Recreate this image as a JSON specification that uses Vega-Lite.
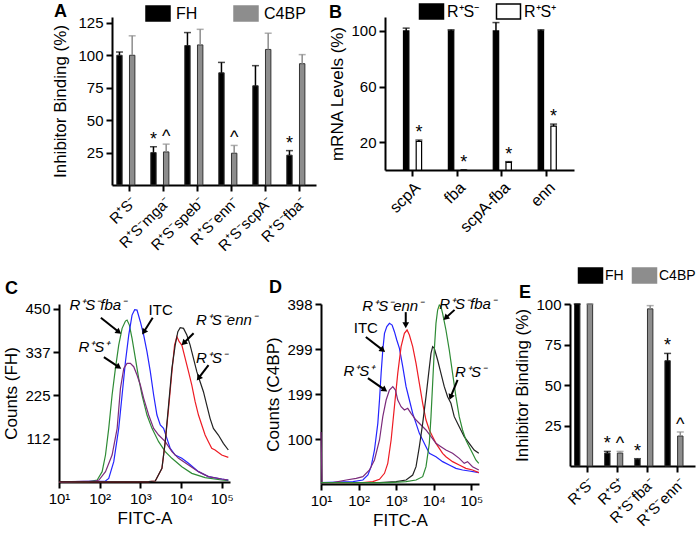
{
"$schema":"https://vega.github.io/schema/vega-lite/v6.json",
"padding":{"left":2,"top":3,"right":0,"bottom":0},
"bounds":"flush",
"spacing":287,
"resolve":{"scale":{"color":"independent"},"legend":{"color":"independent"}},
"config":{"font":"Liberation Sans","view":{"stroke":null},
"axis":{"domainColor":"black","domainWidth":2,"tickColor":"black","tickWidth":2,"tickSize":6,"labelColor":"black","labelFontSize":15,"titleFontSize":17,"titleFontWeight":"normal","titleColor":"black","grid":false,"labelPadding":3,"labelFlush":false},
"title":{"anchor":"start","frame":"group","fontSize":18,"fontWeight":"bold","offset":0,"color":"black"},
"legend":{"orient":"none","direction":"horizontal","title":null,"symbolType":"M-1.6,-1H1.6V1H-1.6Z","symbolSize":225,"labelFontSize":16,"labelColor":"black","symbolOpacity":1,"padding":0}},
"datasets":{
"curvesC":[
{"strain":"R⁺S⁻fba⁻","fitc":10,"count":0.5},{"strain":"R⁺S⁻fba⁻","fitc":54,"count":0.9},{"strain":"R⁺S⁻fba⁻","fitc":87,"count":5.2},{"strain":"R⁺S⁻fba⁻","fitc":115,"count":26.9},{"strain":"R⁺S⁻fba⁻","fitc":139,"count":70.2},{"strain":"R⁺S⁻fba⁻","fitc":167,"count":139.5},{"strain":"R⁺S⁻fba⁻","fitc":202,"count":226.2},{"strain":"R⁺S⁻fba⁻","fitc":244,"count":295.6},{"strain":"R⁺S⁻fba⁻","fitc":294,"count":356.2},{"strain":"R⁺S⁻fba⁻","fitc":356,"count":399.6},{"strain":"R⁺S⁻fba⁻","fitc":430,"count":418.6},{"strain":"R⁺S⁻fba⁻","fitc":471,"count":421.2},{"strain":"R⁺S⁻fba⁻","fitc":538,"count":408.2},{"strain":"R⁺S⁻fba⁻","fitc":625,"count":373.6},{"strain":"R⁺S⁻fba⁻","fitc":755,"count":321.5},{"strain":"R⁺S⁻fba⁻","fitc":910,"count":269.6},{"strain":"R⁺S⁻fba⁻","fitc":1099,"count":226.2},{"strain":"R⁺S⁻fba⁻","fitc":1455,"count":174.2},{"strain":"R⁺S⁻fba⁻","fitc":1932,"count":139.5},{"strain":"R⁺S⁻fba⁻","fitc":2812,"count":104.9},{"strain":"R⁺S⁻fba⁻","fitc":4093,"count":78.9},{"strain":"R⁺S⁻fba⁻","fitc":5970,"count":61.6},{"strain":"R⁺S⁻fba⁻","fitc":10470,"count":39.9},{"strain":"R⁺S⁻fba⁻","fitc":18410,"count":22.5},{"strain":"R⁺S⁻fba⁻","fitc":39080,"count":11.3},{"strain":"R⁺S⁻fba⁻","fitc":100000,"count":5.2},{"strain":"R⁺S⁻fba⁻","fitc":145500,"count":3.5},
{"strain":"ITC","fitc":10,"count":0.5},{"strain":"ITC","fitc":139,"count":2.6},{"strain":"ITC","fitc":167,"count":9.5},{"strain":"ITC","fitc":222,"count":52.9},{"strain":"ITC","fitc":294,"count":139.5},{"strain":"ITC","fitc":356,"count":226.2},{"strain":"ITC","fitc":430,"count":312.9},{"strain":"ITC","fitc":518,"count":382.2},{"strain":"ITC","fitc":625,"count":434.2},{"strain":"ITC","fitc":726,"count":448},{"strain":"ITC","fitc":828,"count":447.2},{"strain":"ITC","fitc":1000,"count":416.9},{"strain":"ITC","fitc":1208,"count":382.2},{"strain":"ITC","fitc":1455,"count":338.9},{"strain":"ITC","fitc":1758,"count":286.9},{"strain":"ITC","fitc":2123,"count":226.2},{"strain":"ITC","fitc":2559,"count":174.2},{"strain":"ITC","fitc":3090,"count":148.2},{"strain":"ITC","fitc":3724,"count":139.5},{"strain":"ITC","fitc":4498,"count":113.5},{"strain":"ITC","fitc":5433,"count":87.5},{"strain":"ITC","fitc":7194,"count":70.2},{"strain":"ITC","fitc":10470,"count":61.6},{"strain":"ITC","fitc":15280,"count":48.6},{"strain":"ITC","fitc":26850,"count":26.9},{"strain":"ITC","fitc":47100,"count":13.9},{"strain":"ITC","fitc":100000,"count":7.8},{"strain":"ITC","fitc":145500,"count":5.2},
{"strain":"R⁺S⁺","fitc":10,"count":0.5},{"strain":"R⁺S⁺","fitc":79,"count":2.6},{"strain":"R⁺S⁺","fitc":96,"count":5.2},{"strain":"R⁺S⁺","fitc":139,"count":26.9},{"strain":"R⁺S⁺","fitc":202,"count":70.2},{"strain":"R⁺S⁺","fitc":269,"count":139.5},{"strain":"R⁺S⁺","fitc":324,"count":243.6},{"strain":"R⁺S⁺","fitc":391,"count":295.6},{"strain":"R⁺S⁺","fitc":471,"count":308.5},{"strain":"R⁺S⁺","fitc":569,"count":308.5},{"strain":"R⁺S⁺","fitc":687,"count":299.9},{"strain":"R⁺S⁺","fitc":828,"count":278.2},{"strain":"R⁺S⁺","fitc":1000,"count":252.2},{"strain":"R⁺S⁺","fitc":1208,"count":217.6},{"strain":"R⁺S⁺","fitc":1600,"count":174.2},{"strain":"R⁺S⁺","fitc":2123,"count":139.5},{"strain":"R⁺S⁺","fitc":2812,"count":122.2},{"strain":"R⁺S⁺","fitc":4093,"count":104.9},{"strain":"R⁺S⁺","fitc":5970,"count":78.9},{"strain":"R⁺S⁺","fitc":8690,"count":61.6},{"strain":"R⁺S⁺","fitc":15280,"count":44.2},{"strain":"R⁺S⁺","fitc":26850,"count":26.9},{"strain":"R⁺S⁺","fitc":47100,"count":13.9},{"strain":"R⁺S⁺","fitc":100000,"count":7.8},{"strain":"R⁺S⁺","fitc":145500,"count":5.2},
{"strain":"R⁺S⁻enn⁻","fitc":10,"count":0.5},{"strain":"R⁺S⁻enn⁻","fitc":1600,"count":0.9},{"strain":"R⁺S⁻enn⁻","fitc":2328,"count":2.6},{"strain":"R⁺S⁻enn⁻","fitc":3396,"count":35.5},{"strain":"R⁺S⁻enn⁻","fitc":4093,"count":104.9},{"strain":"R⁺S⁻enn⁻","fitc":4943,"count":191.6},{"strain":"R⁺S⁻enn⁻","fitc":5970,"count":286.9},{"strain":"R⁺S⁻enn⁻","fitc":6934,"count":356.2},{"strain":"R⁺S⁻enn⁻","fitc":7907,"count":377.9},{"strain":"R⁺S⁻enn⁻","fitc":9016,"count":364.9},{"strain":"R⁺S⁻enn⁻","fitc":10470,"count":356.2},{"strain":"R⁺S⁻enn⁻","fitc":12650,"count":321.5},{"strain":"R⁺S⁻enn⁻","fitc":15280,"count":286.9},{"strain":"R⁺S⁻enn⁻","fitc":18410,"count":252.2},{"strain":"R⁺S⁻enn⁻","fitc":22230,"count":208.9},{"strain":"R⁺S⁻enn⁻","fitc":26850,"count":174.2},{"strain":"R⁺S⁻enn⁻","fitc":32360,"count":148.2},{"strain":"R⁺S⁻enn⁻","fitc":39080,"count":122.2},{"strain":"R⁺S⁻enn⁻","fitc":47100,"count":104.9},{"strain":"R⁺S⁻enn⁻","fitc":56890,"count":87.5},{"strain":"R⁺S⁻enn⁻","fitc":68710,"count":83.2},{"strain":"R⁺S⁻enn⁻","fitc":100000,"count":70.2},{"strain":"R⁺S⁻enn⁻","fitc":145500,"count":64.2},
{"strain":"R⁺S⁻","fitc":10,"count":0.5},{"strain":"R⁺S⁻","fitc":1600,"count":0.9},{"strain":"R⁺S⁻","fitc":2328,"count":2.6},{"strain":"R⁺S⁻","fitc":3396,"count":35.5},{"strain":"R⁺S⁻","fitc":4093,"count":104.9},{"strain":"R⁺S⁻","fitc":4943,"count":200.2},{"strain":"R⁺S⁻","fitc":5970,"count":295.6},{"strain":"R⁺S⁻","fitc":7194,"count":356.2},{"strain":"R⁺S⁻","fitc":8356,"count":390.9},{"strain":"R⁺S⁻","fitc":9550,"count":401.3},{"strain":"R⁺S⁻","fitc":11510,"count":399.6},{"strain":"R⁺S⁻","fitc":13900,"count":382.2},{"strain":"R⁺S⁻","fitc":16750,"count":356.2},{"strain":"R⁺S⁻","fitc":20230,"count":321.5},{"strain":"R⁺S⁻","fitc":24430,"count":286.9},{"strain":"R⁺S⁻","fitc":29440,"count":260.9},{"strain":"R⁺S⁻","fitc":35560,"count":234.9},{"strain":"R⁺S⁻","fitc":42950,"count":200.2},{"strain":"R⁺S⁻","fitc":51760,"count":165.6},{"strain":"R⁺S⁻","fitc":62520,"count":139.5},{"strain":"R⁺S⁻","fitc":82790,"count":122.2},{"strain":"R⁺S⁻","fitc":109900,"count":100.5},{"strain":"R⁺S⁻","fitc":145500,"count":83.2}
],
"curvesD":[
{"strain":"ITC","fitc":10,"count":2.9},{"strain":"ITC","fitc":71,"count":5.2},{"strain":"ITC","fitc":130,"count":8.8},{"strain":"ITC","fitc":177,"count":19.9},{"strain":"ITC","fitc":216,"count":38.3},{"strain":"ITC","fitc":265,"count":75.2},{"strain":"ITC","fitc":325,"count":134.1},{"strain":"ITC","fitc":360,"count":185.7},{"strain":"ITC","fitc":398,"count":244.7},{"strain":"ITC","fitc":441,"count":296.3},{"strain":"ITC","fitc":489,"count":333.1},{"strain":"ITC","fitc":564,"count":347.9},{"strain":"ITC","fitc":662,"count":355.2},{"strain":"ITC","fitc":780,"count":351.5},{"strain":"ITC","fitc":899,"count":336.8},{"strain":"ITC","fitc":1038,"count":318.4},{"strain":"ITC","fitc":1222,"count":300},{"strain":"ITC","fitc":1496,"count":259.4},{"strain":"ITC","fitc":1834,"count":215.2},{"strain":"ITC","fitc":2249,"count":185.7},{"strain":"ITC","fitc":2756,"count":156.2},{"strain":"ITC","fitc":3378,"count":134.1},{"strain":"ITC","fitc":4141,"count":112},{"strain":"ITC","fitc":5077,"count":97.3},{"strain":"ITC","fitc":6224,"count":82.5},{"strain":"ITC","fitc":7628,"count":67.8},{"strain":"ITC","fitc":11460,"count":60.4},{"strain":"ITC","fitc":17220,"count":49.4},{"strain":"ITC","fitc":25880,"count":42},{"strain":"ITC","fitc":38880,"count":34.6},{"strain":"ITC","fitc":58430,"count":31},{"strain":"ITC","fitc":87790,"count":28.7},{"strain":"ITC","fitc":158000,"count":25.1},
{"strain":"R⁺S⁻enn⁻","fitc":10,"count":2.9},{"strain":"R⁺S⁻enn⁻","fitc":130,"count":2.9},{"strain":"R⁺S⁻enn⁻","fitc":239,"count":5.2},{"strain":"R⁺S⁻enn⁻","fitc":360,"count":10.3},{"strain":"R⁺S⁻enn⁻","fitc":489,"count":23.6},{"strain":"R⁺S⁻enn⁻","fitc":598,"count":45.7},{"strain":"R⁺S⁻enn⁻","fitc":734,"count":97.3},{"strain":"R⁺S⁻enn⁻","fitc":899,"count":171},{"strain":"R⁺S⁻enn⁻","fitc":1102,"count":244.7},{"strain":"R⁺S⁻enn⁻","fitc":1352,"count":303.6},{"strain":"R⁺S⁻enn⁻","fitc":1656,"count":333.1},{"strain":"R⁺S⁻enn⁻","fitc":1950,"count":340.5},{"strain":"R⁺S⁻enn⁻","fitc":2249,"count":329.4},{"strain":"R⁺S⁻enn⁻","fitc":2756,"count":303.6},{"strain":"R⁺S⁻enn⁻","fitc":3378,"count":266.8},{"strain":"R⁺S⁻enn⁻","fitc":4141,"count":222.6},{"strain":"R⁺S⁻enn⁻","fitc":5077,"count":178.4},{"strain":"R⁺S⁻enn⁻","fitc":6224,"count":141.5},{"strain":"R⁺S⁻enn⁻","fitc":7628,"count":119.4},{"strain":"R⁺S⁻enn⁻","fitc":9352,"count":104.7},{"strain":"R⁺S⁻enn⁻","fitc":11460,"count":89.9},{"strain":"R⁺S⁻enn⁻","fitc":14050,"count":78.9},{"strain":"R⁺S⁻enn⁻","fitc":17220,"count":67.8},{"strain":"R⁺S⁻enn⁻","fitc":21110,"count":60.4},{"strain":"R⁺S⁻enn⁻","fitc":31720,"count":49.4},{"strain":"R⁺S⁻enn⁻","fitc":47660,"count":42},{"strain":"R⁺S⁻enn⁻","fitc":71620,"count":34.6},{"strain":"R⁺S⁻enn⁻","fitc":107600,"count":31},{"strain":"R⁺S⁻enn⁻","fitc":158000,"count":25.1},
{"strain":"R⁺S⁺","fitc":10,"count":115},{"strain":"R⁺S⁺","fitc":10.6,"count":2.9},{"strain":"R⁺S⁺","fitc":20.8,"count":2.9},{"strain":"R⁺S⁺","fitc":47,"count":8.8},{"strain":"R⁺S⁺","fitc":86.5,"count":12.5},{"strain":"R⁺S⁺","fitc":130,"count":16.2},{"strain":"R⁺S⁺","fitc":195,"count":31},{"strain":"R⁺S⁺","fitc":265,"count":53.1},{"strain":"R⁺S⁺","fitc":360,"count":97.3},{"strain":"R⁺S⁺","fitc":441,"count":148.9},{"strain":"R⁺S⁺","fitc":541,"count":185.7},{"strain":"R⁺S⁺","fitc":662,"count":207.8},{"strain":"R⁺S⁺","fitc":813,"count":215.2},{"strain":"R⁺S⁺","fitc":957,"count":207.8},{"strain":"R⁺S⁺","fitc":1102,"count":185.7},{"strain":"R⁺S⁺","fitc":1352,"count":171},{"strain":"R⁺S⁺","fitc":1656,"count":163.6},{"strain":"R⁺S⁺","fitc":2032,"count":167.3},{"strain":"R⁺S⁺","fitc":2490,"count":156.2},{"strain":"R⁺S⁺","fitc":3378,"count":141.5},{"strain":"R⁺S⁺","fitc":4585,"count":130.4},{"strain":"R⁺S⁺","fitc":6224,"count":119.4},{"strain":"R⁺S⁺","fitc":8447,"count":104.7},{"strain":"R⁺S⁺","fitc":11460,"count":89.9},{"strain":"R⁺S⁺","fitc":15560,"count":82.5},{"strain":"R⁺S⁺","fitc":21110,"count":75.2},{"strain":"R⁺S⁺","fitc":31720,"count":67.8},{"strain":"R⁺S⁺","fitc":47660,"count":56.7},{"strain":"R⁺S⁺","fitc":64690,"count":45.7},{"strain":"R⁺S⁺","fitc":79290,"count":49.4},{"strain":"R⁺S⁺","fitc":107600,"count":38.3},{"strain":"R⁺S⁺","fitc":158000,"count":31},
{"strain":"R⁺S⁻","fitc":10,"count":2.9},{"strain":"R⁺S⁻","fitc":360,"count":2.9},{"strain":"R⁺S⁻","fitc":996,"count":5.2},{"strain":"R⁺S⁻","fitc":1834,"count":8.8},{"strain":"R⁺S⁻","fitc":2756,"count":19.9},{"strain":"R⁺S⁻","fitc":3378,"count":38.3},{"strain":"R⁺S⁻","fitc":4141,"count":82.5},{"strain":"R⁺S⁻","fitc":5077,"count":134.1},{"strain":"R⁺S⁻","fitc":6224,"count":193.1},{"strain":"R⁺S⁻","fitc":7323,"count":244.7},{"strain":"R⁺S⁻","fitc":8447,"count":288.9},{"strain":"R⁺S⁻","fitc":9352,"count":303.6},{"strain":"R⁺S⁻","fitc":10350,"count":300},{"strain":"R⁺S⁻","fitc":12690,"count":274.2},{"strain":"R⁺S⁻","fitc":15560,"count":244.7},{"strain":"R⁺S⁻","fitc":19070,"count":215.2},{"strain":"R⁺S⁻","fitc":23370,"count":193.1},{"strain":"R⁺S⁻","fitc":28650,"count":178.4},{"strain":"R⁺S⁻","fitc":35120,"count":148.9},{"strain":"R⁺S⁻","fitc":47660,"count":126.8},{"strain":"R⁺S⁻","fitc":64690,"count":104.7},{"strain":"R⁺S⁻","fitc":87790,"count":89.9},{"strain":"R⁺S⁻","fitc":119100,"count":75.2},{"strain":"R⁺S⁻","fitc":158000,"count":67.8},
{"strain":"R⁺S⁻fba⁻","fitc":10,"count":2.9},{"strain":"R⁺S⁻fba⁻","fitc":662,"count":2.9},{"strain":"R⁺S⁻fba⁻","fitc":1834,"count":5.2},{"strain":"R⁺S⁻fba⁻","fitc":3378,"count":8.8},{"strain":"R⁺S⁻fba⁻","fitc":5077,"count":16.2},{"strain":"R⁺S⁻fba⁻","fitc":6224,"count":38.3},{"strain":"R⁺S⁻fba⁻","fitc":7628,"count":89.9},{"strain":"R⁺S⁻fba⁻","fitc":8447,"count":148.9},{"strain":"R⁺S⁻fba⁻","fitc":9352,"count":222.6},{"strain":"R⁺S⁻fba⁻","fitc":10350,"count":296.3},{"strain":"R⁺S⁻fba⁻","fitc":11460,"count":355.2},{"strain":"R⁺S⁻fba⁻","fitc":12690,"count":384.7},{"strain":"R⁺S⁻fba⁻","fitc":14050,"count":395.8},{"strain":"R⁺S⁻fba⁻","fitc":15560,"count":392.1},{"strain":"R⁺S⁻fba⁻","fitc":17220,"count":377.3},{"strain":"R⁺S⁻fba⁻","fitc":21110,"count":340.5},{"strain":"R⁺S⁻fba⁻","fitc":25880,"count":296.3},{"strain":"R⁺S⁻fba⁻","fitc":31720,"count":244.7},{"strain":"R⁺S⁻fba⁻","fitc":38880,"count":193.1},{"strain":"R⁺S⁻fba⁻","fitc":47660,"count":148.9},{"strain":"R⁺S⁻fba⁻","fitc":58430,"count":119.4},{"strain":"R⁺S⁻fba⁻","fitc":71620,"count":97.3},{"strain":"R⁺S⁻fba⁻","fitc":87790,"count":82.5},{"strain":"R⁺S⁻fba⁻","fitc":107600,"count":67.8},{"strain":"R⁺S⁻fba⁻","fitc":131900,"count":53.1},{"strain":"R⁺S⁻fba⁻","fitc":158000,"count":45.7}
],
"labelsC":[{"label":"R⁺S⁻fba⁻","fitc":90,"count":460},{"label":"ITC","fitc":3160,"count":447},{"label":"R⁺S⁻enn⁻","fitc":131000,"count":421},{"label":"R⁺S⁺","fitc":72,"count":351},{"label":"R⁺S⁻","fitc":56200,"count":322}],
"arrowsC":[{"fitc":107,"count":427,"fitc2":296,"count2":390,"angle":128},{"fitc":2014,"count":427,"fitc2":1211,"count2":390,"angle":213},{"fitc":20370,"count":387,"fitc2":11590,"count2":361,"angle":225},{"fitc":127,"count":325,"fitc2":296,"count2":299,"angle":124},{"fitc":47420,"count":304,"fitc2":26980,"count2":270,"angle":218}],
"labelsD":[{"label":"R⁺S⁻enn⁻","fitc":813,"count":394},{"label":"R⁺S⁻fba⁻","fitc":79000,"count":398},{"label":"ITC","fitc":156,"count":345},{"label":"R⁺S⁺","fitc":102,"count":250},{"label":"R⁺S⁻","fitc":95000,"count":248}],
"arrowsD":[{"fitc":1799,"count":380,"fitc2":1799,"count2":351,"angle":180},{"fitc":35810,"count":385,"fitc2":20700,"count2":367,"angle":228},{"fitc":156,"count":325,"fitc2":442,"count2":296,"angle":127},{"fitc":177,"count":234,"fitc2":499,"count2":208,"angle":125},{"fitc":43050,"count":230,"fitc2":28050,"count2":192,"angle":202}]
},
"vconcat":[
{"hconcat":[
 {"width":53,"height":20,"data":{"values":[{}]},"mark":{"type":"text","text":" "}},
 {"width":204,"height":168,
  "title":{"text":"A","dx":-58,"dy":20},
  "data":{"values":[
   {"strain":"R⁺S⁻","series":"FH","value":100,"hi":102.5,"mark":""},
   {"strain":"R⁺S⁻","series":"C4BP","value":100,"hi":115,"mark":""},
   {"strain":"R⁺S⁻mga⁻","series":"FH","value":25,"hi":29.5,"mark":"*"},
   {"strain":"R⁺S⁻mga⁻","series":"C4BP","value":25.5,"hi":31.5,"mark":"^"},
   {"strain":"R⁺S⁻speb⁻","series":"FH","value":107.5,"hi":117.5,"mark":""},
   {"strain":"R⁺S⁻speb⁻","series":"C4BP","value":108,"hi":120,"mark":""},
   {"strain":"R⁺S⁻enn⁻","series":"FH","value":86.5,"hi":94.5,"mark":""},
   {"strain":"R⁺S⁻enn⁻","series":"C4BP","value":24.5,"hi":30.5,"mark":"^"},
   {"strain":"R⁺S⁻scpA⁻","series":"FH","value":76.5,"hi":92,"mark":""},
   {"strain":"R⁺S⁻scpA⁻","series":"C4BP","value":104.5,"hi":117,"mark":""},
   {"strain":"R⁺S⁻fba⁻","series":"FH","value":23,"hi":26.5,"mark":"*"},
   {"strain":"R⁺S⁻fba⁻","series":"C4BP","value":93.5,"hi":100.5,"mark":""}]},
  "encoding":{
   "x":{"field":"strain","type":"nominal","sort":null,"scale":{"paddingInner":0.28,"paddingOuter":0.14},"axis":{"title":null,"labelAngle":-45}},
   "xOffset":{"field":"series","type":"nominal","sort":["FH","C4BP"]},
   "color":{"field":"series","type":"nominal","scale":{"domain":["FH","C4BP"],"range":["#000000","#8d8d8d"]},"legend":{"legendX":37.5,"legendY":-12,"labelOffset":9.5,"columnPadding":33}}},
  "layer":[
   {"mark":{"type":"bar","stroke":"#333333","strokeWidth":1},"encoding":{"y":{"field":"value","type":"quantitative","title":"Inhibitor Binding (%)","scale":{"domain":[0,129.5],"nice":false},"axis":{"values":[25,50,75,100,125],"titlePadding":8}}}},
   {"mark":{"type":"rule","strokeWidth":1.5},"encoding":{"y":{"field":"value","type":"quantitative","title":"Inhibitor Binding (%)"},"y2":{"field":"hi"}}},
   {"mark":{"type":"tick","thickness":1.5,"size":7},"encoding":{"y":{"field":"hi","type":"quantitative","title":"Inhibitor Binding (%)"}}},
   {"mark":{"type":"text","baseline":"bottom","fontSize":18,"dy":2},"encoding":{"y":{"field":"hi","type":"quantitative","title":"Inhibitor Binding (%)"},"text":{"field":"mark"},"color":{"value":"black"}}}
  ]},
 {"width":69,"height":20,"data":{"values":[{}]},"mark":{"type":"text","text":" "}},
 {"width":189,"height":153,
  "title":{"text":"B","dx":-56,"dy":23},
  "data":{"values":[
   {"gene":"scpA","series":"R⁺S⁻","value":100,"hi":102,"mark":""},
   {"gene":"scpA","series":"R⁺S⁺","value":20.5,"hi":21.5,"mark":"*"},
   {"gene":"fba","series":"R⁺S⁻","value":100,"hi":100.8,"mark":""},
   {"gene":"fba","series":"R⁺S⁺","value":0,"hi":0,"mark":"*"},
   {"gene":"scpA-fba","series":"R⁺S⁻","value":100,"hi":106,"mark":""},
   {"gene":"scpA-fba","series":"R⁺S⁺","value":5.5,"hi":6,"mark":"*"},
   {"gene":"enn","series":"R⁺S⁻","value":100,"hi":100.8,"mark":""},
   {"gene":"enn","series":"R⁺S⁺","value":31.5,"hi":33,"mark":"*"}]},
  "encoding":{
   "x":{"field":"gene","type":"nominal","sort":null,"scale":{"paddingInner":0.33,"paddingOuter":0.27},"axis":{"title":null,"labelAngle":-45,"labelFontSize":16}},
   "xOffset":{"field":"series","type":"nominal","sort":["R⁺S⁻","R⁺S⁺"],"scale":{"paddingInner":0.15}},
   "color":{"field":"series","type":"nominal","scale":{"domain":["R⁺S⁻","R⁺S⁺"],"range":["#000000","#ffffff"]},"legend":{"legendX":38,"legendY":-14,"labelOffset":7,"columnPadding":13}}},
  "layer":[
   {"mark":{"type":"bar","stroke":"#000000","strokeWidth":1.2},"encoding":{"y":{"field":"value","type":"quantitative","title":"mRNA Levels (%)","scale":{"domain":[0,110],"nice":false},"axis":{"values":[20,40,60,80,100],"labelExpr":"datum.value % 40 == 20 ? datum.label : ''"}}}},
   {"mark":{"type":"rule","strokeWidth":1.5},"encoding":{"y":{"field":"value","type":"quantitative","title":"mRNA Levels (%)"},"y2":{"field":"hi"},"color":{"value":"black"}}},
   {"mark":{"type":"tick","thickness":1.5,"size":7},"encoding":{"y":{"field":"hi","type":"quantitative","title":"mRNA Levels (%)"},"color":{"value":"black"}}},
   {"mark":{"type":"text","baseline":"bottom","fontSize":18,"dy":2},"encoding":{"y":{"field":"hi","type":"quantitative","title":"mRNA Levels (%)"},"text":{"field":"mark"},"color":{"value":"black"}}}
  ]}
 ],"spacing":0,"bounds":"flush","resolve":{"scale":{"color":"independent"},"legend":{"color":"independent"}}},
{"hconcat":[
 {"width":171,"height":178,
  "title":{"text":"C","dx":-54,"dy":4},
  "layer":[
   {"data":{"name":"curvesC"},"mark":{"type":"line","strokeWidth":1.2},
    "encoding":{"x":{"field":"fitc","type":"quantitative","title":"FITC-A","scale":{"type":"log","domain":[10,160000],"nice":false},"axis":{"values":[10,100,1000,10000,100000],"labelExpr":"'10' + ['⁰','¹','²','³','⁴','⁵'][round(log(datum.value)/LN10)]","titlePadding":4}},
     "y":{"field":"count","type":"quantitative","title":"Counts (FH)","scale":{"domain":[0,463],"nice":false},"axis":{"values":[112.5,225,337.5,450],"labelExpr":"'' + floor(datum.value)"}},
     "color":{"field":"strain","type":"nominal","scale":{"domain":["R⁺S⁻fba⁻","ITC","R⁺S⁺","R⁺S⁻enn⁻","R⁺S⁻"],"range":["#2e8b35","#2424ff","#7b2b7b","#ee1c24","#222222"]},"legend":null}}},
   {"data":{"name":"arrowsC"},"mark":{"type":"rule","strokeWidth":2,"color":"black"},
    "encoding":{"x":{"field":"fitc","type":"quantitative","title":"FITC-A"},"x2":{"field":"fitc2"},"y":{"field":"count","type":"quantitative","title":"Counts (FH)"},"y2":{"field":"count2"}}},
   {"data":{"name":"arrowsC"},"mark":{"type":"point","shape":"triangle-up","filled":true,"size":45,"color":"black","opacity":1},
    "encoding":{"x":{"field":"fitc2","type":"quantitative","title":"FITC-A"},"y":{"field":"count2","type":"quantitative","title":"Counts (FH)"},"angle":{"field":"angle","type":"quantitative","scale":null}}},
   {"data":{"name":"labelsC"},"transform":[{"filter":"datum.label != 'ITC'"}],"mark":{"type":"text","fontSize":15,"fontStyle":"italic","color":"black"},
    "encoding":{"x":{"field":"fitc","type":"quantitative","title":"FITC-A"},"y":{"field":"count","type":"quantitative","title":"Counts (FH)"},"text":{"field":"label"}}},
   {"data":{"name":"labelsC"},"transform":[{"filter":"datum.label == 'ITC'"}],"mark":{"type":"text","fontSize":15,"color":"black"},
    "encoding":{"x":{"field":"fitc","type":"quantitative","title":"FITC-A"},"y":{"field":"count","type":"quantitative","title":"Counts (FH)"},"text":{"field":"label"}}}
  ]},
 {"width":158,"height":180,
  "title":{"text":"D","dx":-52,"dy":4},
  "layer":[
   {"data":{"name":"curvesD"},"mark":{"type":"line","strokeWidth":1.2},
    "encoding":{"x":{"field":"fitc","type":"quantitative","title":"FITC-A","scale":{"type":"log","domain":[10,160000],"nice":false},"axis":{"values":[10,100,1000,10000,100000],"labelExpr":"'10' + ['⁰','¹','²','³','⁴','⁵'][round(log(datum.value)/LN10)]","titlePadding":4}},
     "y":{"field":"count","type":"quantitative","title":"Counts (C4BP)","scale":{"domain":[0,398],"nice":false},"axis":{"values":[99.5,199,298.5,398],"labelExpr":"'' + round(datum.value)"}},
     "color":{"field":"strain","type":"nominal","scale":{"domain":["R⁺S⁻fba⁻","ITC","R⁺S⁺","R⁺S⁻enn⁻","R⁺S⁻"],"range":["#2e8b35","#2424ff","#7b2b7b","#ee1c24","#222222"]},"legend":null}}},
   {"data":{"name":"arrowsD"},"mark":{"type":"rule","strokeWidth":2,"color":"black"},
    "encoding":{"x":{"field":"fitc","type":"quantitative","title":"FITC-A"},"x2":{"field":"fitc2"},"y":{"field":"count","type":"quantitative","title":"Counts (C4BP)"},"y2":{"field":"count2"}}},
   {"data":{"name":"arrowsD"},"mark":{"type":"point","shape":"triangle-up","filled":true,"size":45,"color":"black","opacity":1},
    "encoding":{"x":{"field":"fitc2","type":"quantitative","title":"FITC-A"},"y":{"field":"count2","type":"quantitative","title":"Counts (C4BP)"},"angle":{"field":"angle","type":"quantitative","scale":null}}},
   {"data":{"name":"labelsD"},"transform":[{"filter":"datum.label != 'ITC'"}],"mark":{"type":"text","fontSize":15,"fontStyle":"italic","color":"black"},
    "encoding":{"x":{"field":"fitc","type":"quantitative","title":"FITC-A"},"y":{"field":"count","type":"quantitative","title":"Counts (C4BP)"},"text":{"field":"label"}}},
   {"data":{"name":"labelsD"},"transform":[{"filter":"datum.label == 'ITC'"}],"mark":{"type":"text","fontSize":15,"color":"black"},
    "encoding":{"x":{"field":"fitc","type":"quantitative","title":"FITC-A"},"y":{"field":"count","type":"quantitative","title":"Counts (C4BP)"},"text":{"field":"label"}}}
  ]},
 {"width":125,"height":162,
  "title":{"text":"E","dx":-51,"dy":39},
  "data":{"values":[
   {"strain":"R⁺S⁻","series":"FH","value":100,"hi":100,"mark":""},
   {"strain":"R⁺S⁻","series":"C4BP","value":100,"hi":100,"mark":""},
   {"strain":"R⁺S⁺","series":"FH","value":8,"hi":9,"mark":"*"},
   {"strain":"R⁺S⁺","series":"C4BP","value":8,"hi":9,"mark":"^"},
   {"strain":"R⁺S⁻fba⁻","series":"FH","value":4,"hi":4.5,"mark":"*"},
   {"strain":"R⁺S⁻fba⁻","series":"C4BP","value":97,"hi":99,"mark":""},
   {"strain":"R⁺S⁻enn⁻","series":"FH","value":65,"hi":69.5,"mark":"*"},
   {"strain":"R⁺S⁻enn⁻","series":"C4BP","value":18.5,"hi":21,"mark":"^"}]},
  "encoding":{
   "x":{"field":"strain","type":"nominal","sort":null,"scale":{"paddingInner":0.15,"paddingOuter":0.15},"axis":{"title":null,"labelAngle":-45}},
   "xOffset":{"field":"series","type":"nominal","sort":["FH","C4BP"]},
   "color":{"field":"series","type":"nominal","scale":{"domain":["FH","C4BP"],"range":["#000000","#8d8d8d"]},"legend":{"legendX":12,"legendY":-37,"labelOffset":6,"columnPadding":5,"labelFontSize":14}}},
  "layer":[
   {"mark":{"type":"bar","stroke":"#333333","strokeWidth":1},"encoding":{"y":{"field":"value","type":"quantitative","title":"Inhibitor Binding (%)","scale":{"domain":[0,100],"nice":false},"axis":{"values":[25,50,75,100]}}}},
   {"mark":{"type":"rule","strokeWidth":1.5},"encoding":{"y":{"field":"value","type":"quantitative","title":"Inhibitor Binding (%)"},"y2":{"field":"hi"}}},
   {"mark":{"type":"tick","thickness":1.5,"size":7},"encoding":{"y":{"field":"hi","type":"quantitative","title":"Inhibitor Binding (%)"}}},
   {"mark":{"type":"text","baseline":"bottom","fontSize":18,"dy":2},"encoding":{"y":{"field":"hi","type":"quantitative","title":"Inhibitor Binding (%)"},"text":{"field":"mark"},"color":{"value":"black"}}}
  ]}
 ],"spacing":91,"bounds":"flush","resolve":{"scale":{"color":"independent"},"legend":{"color":"independent"}}}
]
}
